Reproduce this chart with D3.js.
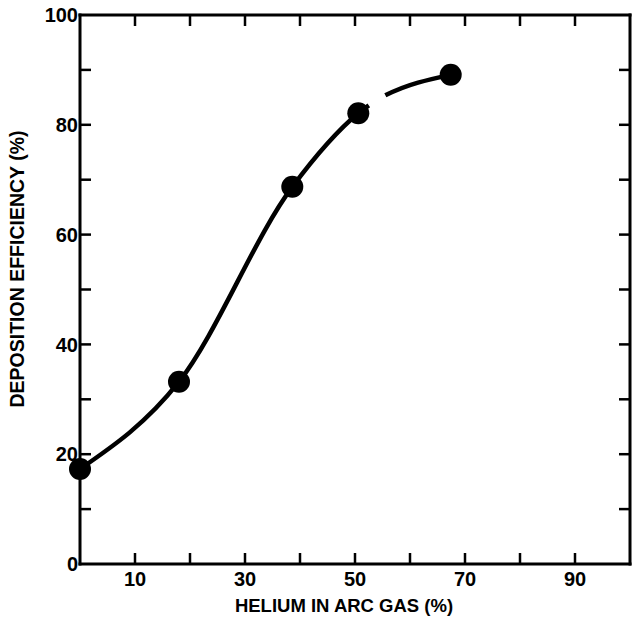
<!DOCTYPE html>
<html>
<head>
<meta charset="utf-8">
<title>Deposition efficiency</title>
<script src="https://cdn.jsdelivr.net/npm/d3@7"></script>
<style>
	body { margin: 0; background: white; }
	svg text { font-family: "Liberation Sans", Arial, sans-serif; fill: black; }
	.tick_label { font-size: 20px; font-weight: bold; }
	.axis_title { font-size: 18.5px; font-weight: bold; }
	.frame line { stroke: black; stroke-width: 3px; stroke-linecap: square; }
	.ticks line { stroke: black; stroke-width: 2.5px; }
</style>
</head>
<body>
<svg id="chart" width="637" height="630"></svg>
<script>

	// values
	var helium = [0, 18, 38.6, 50.6, 67.4],
		efficiency = [17.3, 33.2, 68.7, 82.1, 89.1];
	var xLabels = [10, 30, 50, 70, 90],
		yLabels = [0, 20, 40, 60, 80, 100],
		tickSteps = d3.range(10, 100, 10);
	// small break in the printed curve, in % helium
	var curveGap = [52.5, 55.5];

	var plotLeft = 80, plotRight = 630, plotTop = 15, plotBottom = 564,
		tickLen = 11;

	var x = d3.scaleLinear().domain([0, 100]).range([plotLeft, plotRight]);
	var y = d3.scaleLinear().domain([0, 100]).range([plotBottom, plotTop]);

	var svg = d3.select("#chart");

	// frame
	var frame = svg.append("g").classed("frame", true);
	frame.append("line").attr("x1", plotLeft).attr("x2", plotRight).attr("y1", plotTop).attr("y2", plotTop);
	frame.append("line").attr("x1", plotLeft).attr("x2", plotRight).attr("y1", plotBottom).attr("y2", plotBottom);
	frame.append("line").attr("x1", plotLeft).attr("x2", plotLeft).attr("y1", plotTop).attr("y2", plotBottom);
	frame.append("line").attr("x1", plotRight).attr("x2", plotRight).attr("y1", plotTop).attr("y2", plotBottom);

	// inward ticks on all four sides
	var ticks = svg.append("g").classed("ticks", true);
	ticks.selectAll("line.b").data(tickSteps).enter().append("line")
		.attr("x1", d => x(d)).attr("x2", d => x(d))
		.attr("y1", plotBottom).attr("y2", plotBottom - tickLen);
	ticks.selectAll("line.t").data(tickSteps).enter().append("line")
		.attr("x1", d => x(d)).attr("x2", d => x(d))
		.attr("y1", plotTop).attr("y2", plotTop + tickLen);
	ticks.selectAll("line.l").data(tickSteps).enter().append("line")
		.attr("x1", plotLeft).attr("x2", plotLeft + tickLen)
		.attr("y1", d => y(d)).attr("y2", d => y(d));
	ticks.selectAll("line.r").data(tickSteps).enter().append("line")
		.attr("x1", plotRight).attr("x2", plotRight - tickLen)
		.attr("y1", d => y(d)).attr("y2", d => y(d));

	// tick labels
	svg.selectAll("text.ylab").data(yLabels).enter().append("text")
		.classed("tick_label", true)
		.attr("x", plotLeft - 2)
		.attr("y", d => y(d))
		.attr("dy", "0.36em")
		.attr("text-anchor", "end")
		.text(d => d);
	svg.selectAll("text.xlab").data(xLabels).enter().append("text")
		.classed("tick_label", true)
		.attr("x", d => x(d))
		.attr("y", plotBottom + 22)
		.attr("text-anchor", "middle")
		.text(d => d);

	// axis titles
	svg.append("text").classed("axis_title", true)
		.attr("x", 344)
		.attr("y", 612)
		.attr("text-anchor", "middle")
		.text("HELIUM IN ARC GAS (%)");
	svg.append("text").classed("axis_title", true)
		.attr("transform", "translate(24,269) rotate(-90)")
		.attr("text-anchor", "middle")
		.style("font-size", "19.5px")
		.text("DEPOSITION EFFICIENCY (%)");

	// curve
	var pts = helium.map((h, i) => [h, efficiency[i]]);
	var line = d3.line()
		.x(d => x(d[0])).y(d => y(d[1]))
		.curve(d3.curveMonotoneX);
	var path = svg.append("path")
		.attr("d", line(pts))
		.attr("fill", "none")
		.attr("stroke", "black")
		.attr("stroke-width", 4.5);

	// find the path lengths where the gap starts and ends
	var node = path.node(),
		total = node.getTotalLength();
	function lengthAtX(px) {
		var lo = 0, hi = total;
		for (var k = 0; k < 40; k++) {
			var mid = (lo + hi) / 2;
			if (node.getPointAtLength(mid).x < px) lo = mid; else hi = mid;
		}
		return lo;
	}
	var g0 = lengthAtX(x(curveGap[0])), g1 = lengthAtX(x(curveGap[1]));
	path.attr("stroke-dasharray", g0 + "," + (g1 - g0) + "," + (total - g1 + 1));

	svg.selectAll("circle").data(pts).enter().append("circle")
		.attr("cx", d => x(d[0]))
		.attr("cy", d => y(d[1]))
		.attr("r", 11)
		.attr("fill", "black");

</script>
</body>
</html>
